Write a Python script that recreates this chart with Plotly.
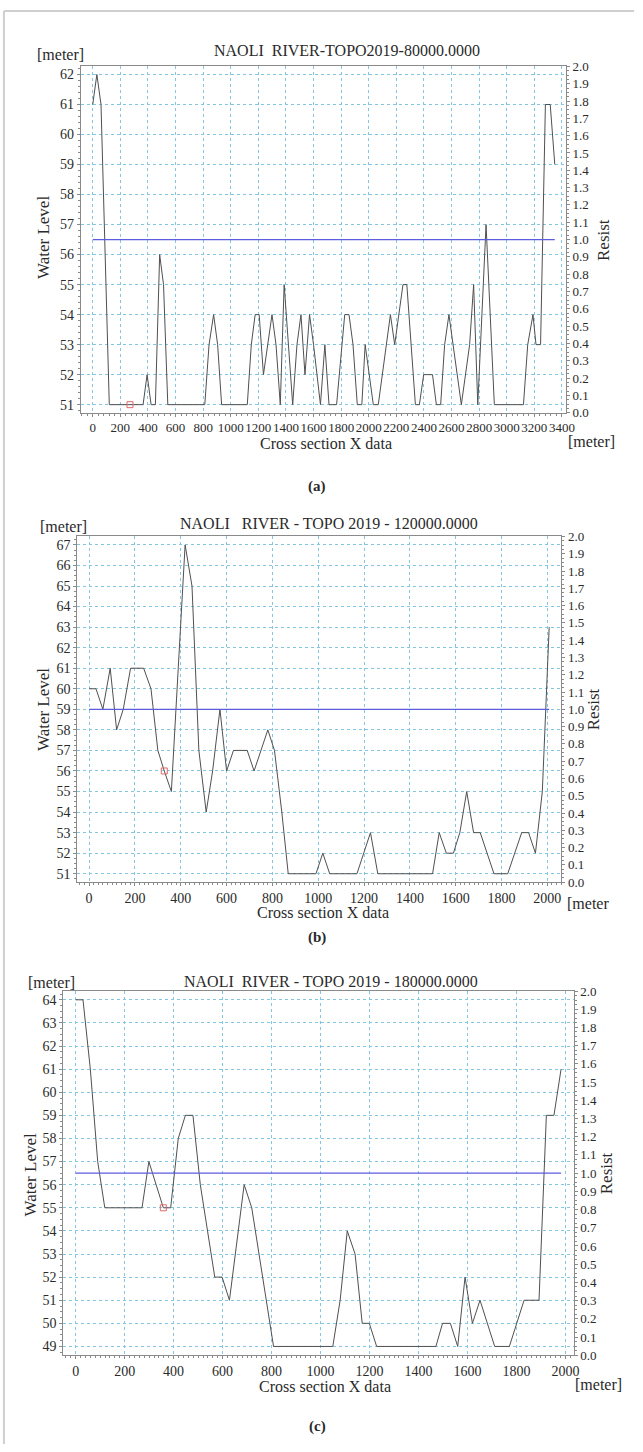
import plotly.graph_objects as go

W, H = 643, 1452
SERIF = "Liberation Serif"
GRID = "#86c6e3"
AXC = "#8a8a8a"
TXT = "#2a2a2a"
PROFILE_C = "#505050"
LEVEL_C = "#5c5ce0"
MARK_C = "#e06a6a"

# ---------------- data ----------------
# (a) NAOLI RIVER-TOPO2019-80000.0000
a_x = [0, 30, 60, 120, 365, 394, 423, 454, 485, 513, 544, 812, 843, 876, 905, 934,
       1120, 1149, 1177, 1206, 1237, 1268, 1299, 1328, 1359, 1387, 1418, 1449, 1480,
       1509, 1538, 1571, 1600, 1625, 1650, 1682, 1712, 1767, 1826, 1857, 1886, 1917,
       1950, 1974, 2033, 2069, 2157, 2188, 2248, 2276, 2338, 2367, 2398, 2462, 2490,
       2521, 2550, 2581, 2612, 2671, 2731, 2760, 2790, 2850, 2910, 3121, 3152, 3190,
       3212, 3245, 3280, 3315, 3348]
a_z = [61, 62, 61, 51, 51, 52, 51, 51, 56, 55, 51, 51, 53, 54, 53, 51,
       51, 53, 54, 54, 52, 53, 54, 53, 51, 55, 53, 51, 53,
       54, 52, 54, 53, 52, 51, 53, 51, 51, 54, 54, 53, 51,
       51, 53, 51, 51, 54, 53, 55, 55, 51, 51, 52, 52, 51,
       51, 53, 54, 53, 51, 53, 55, 51, 57, 51, 51, 53, 54,
       53, 53, 61, 61, 59]
a_mark_x = [270]
a_mark_z = [51]

# (b) NAOLI RIVER - TOPO 2019 - 120000.0000
b_x = [0, 30, 60, 92, 120, 149, 181, 238, 270, 300, 328, 359, 389, 419, 449, 479,
       511, 539, 571, 600, 630, 690, 720, 749, 780, 809, 841, 869, 990, 1020, 1050,
       1169, 1228, 1260, 1499, 1528, 1559, 1590, 1618, 1648, 1678, 1707, 1767, 1827,
       1888, 1918, 1948, 1978, 2008]
b_z = [60, 60, 59, 61, 58, 59, 61, 61, 60, 57, 56, 55, 61, 67, 65, 57,
       54, 56, 59, 56, 57, 57, 56, 57, 58, 57, 54, 51, 51, 52, 51,
       51, 53, 51, 51, 53, 52, 52, 53, 55, 53, 53, 51, 51,
       53, 53, 52, 55, 63]
b_mark_x = [328]
b_mark_z = [56]

# (c) NAOLI RIVER - TOPO 2019 - 180000.0000
c_x = [0, 30, 60, 90, 119, 271, 299, 329, 358, 388, 419, 448, 479, 509, 568, 598,
       628, 688, 719, 808, 1050, 1080, 1109, 1141, 1170, 1199, 1229, 1471, 1498,
       1530, 1560, 1590, 1620, 1651, 1711, 1771, 1831, 1892, 1922, 1953, 1982]
c_z = [64, 64, 61, 57, 55, 55, 57, 56, 55, 55, 58, 59, 59, 56, 52, 52,
       51, 56, 55, 49, 49, 51, 54, 53, 50, 50, 49, 49, 50,
       50, 49, 52, 50, 51, 49, 49, 51, 51, 59, 59, 61]
c_mark_x = [358]
c_mark_z = [55]

resist_level = 1.0

panels = [
    dict(x=a_x, z=a_z, mx=a_mark_x, mz=a_mark_z,
         title="NAOLI  RIVER-TOPO2019-80000.0000", tag="(a)",
         px=(82, 574), py=(60, 410), xr=[-86, 3429], yr=[50.73, 62.27],
         xd=200, xminor=40, ydt=1, yminor=0.2, xfs=13,
         title_xy=(352, 44), mtop=(61, 48), wl=(44, 233), rs=(612, 235),
         xl=(331, 441), mbot=(600, 439), tagy=485),
    dict(x=b_x, z=b_z, mx=b_mark_x, mz=b_mark_z,
         title="NAOLI   RIVER - TOPO 2019 - 120000.0000", tag="(b)",
         px=(78.3, 569.3), py=(535, 884.3), xr=[-52, 2061], yr=[50.59, 67.41],
         xd=200, xminor=20, ydt=1, yminor=0.25, xfs=14,
         title_xy=(334, 522), mtop=(64, 525), wl=(44, 710), rs=(602, 710),
         xl=(328, 915), mbot=(596, 906), tagy=940, mbot_text="[meter"),
    dict(x=c_x, z=c_z, mx=c_mark_x, mz=c_mark_z,
         title="NAOLI  RIVER - TOPO 2019 - 180000.0000", tag="(c)",
         px=(64.3, 581.7), py=(994.3, 1362.3), xr=[-50, 2033], yr=[48.62, 64.38],
         xd=200, xminor=20, ydt=1, yminor=0.25, xfs=14,
         title_xy=(336, 985), mtop=(52, 986), wl=(31, 1180), rs=(615, 1178),
         xl=(330, 1394), mbot=(607, 1392), tagy=1434),
]


def fx(p):
    return p / W


def fy(p):
    return 1 - p / H


fig = go.Figure()
layout = dict(width=W, height=H, margin=dict(l=0, r=0, t=0, b=0),
              paper_bgcolor="white", plot_bgcolor="white", showlegend=False)
annotations = []

for i, p in enumerate(panels):
    n = i + 1
    xa = "x" if n == 1 else f"x{n}"
    yl = 2 * n - 1
    yr_ = 2 * n
    ya_left = "y" if yl == 1 else f"y{yl}"
    ya_right = f"y{yr_}"
    xkey = "xaxis" if n == 1 else f"xaxis{n}"
    ylkey = "yaxis" if yl == 1 else f"yaxis{yl}"
    yrkey = f"yaxis{yr_}"

    fig.add_trace(go.Scatter(x=p["x"], y=p["z"], xaxis=xa, yaxis=ya_left, mode="lines",
                             line=dict(color=PROFILE_C, width=1), hoverinfo="skip"))
    fig.add_trace(go.Scatter(x=[p["x"][0], p["x"][-1]], y=[resist_level, resist_level],
                             xaxis=xa, yaxis=ya_right, mode="lines",
                             line=dict(color=LEVEL_C, width=1.3), hoverinfo="skip"))
    fig.add_trace(go.Scatter(x=p["mx"], y=p["mz"], xaxis=xa, yaxis=ya_left, mode="markers",
                             marker=dict(symbol="square-open", size=6, color=MARK_C,
                                         line=dict(width=1, color=MARK_C)),
                             hoverinfo="skip"))

    dom_x = [fx(p["px"][0]), fx(p["px"][1])]
    dom_y = [fy(p["py"][1]), fy(p["py"][0])]
    layout[xkey] = dict(domain=dom_x, anchor=ya_left, range=p["xr"], tick0=0, dtick=p["xd"],
                        showgrid=True, gridcolor=GRID, griddash="dot", gridwidth=1,
                        showline=True, linecolor=AXC, linewidth=1, mirror=True,
                        ticks="outside", ticklen=3, tickcolor=AXC, tickangle=0,
                        tickfont=dict(family=SERIF, size=p["xfs"], color=TXT),
                        zeroline=False,
                        minor=dict(dtick=p["xminor"], tick0=0, ticklen=2, tickcolor=AXC,
                                   ticks="outside", showgrid=False))
    layout[ylkey] = dict(domain=dom_y, anchor=xa, range=p["yr"], tick0=0, dtick=p["ydt"],
                         showgrid=True, gridcolor=GRID, griddash="dot", gridwidth=1,
                         showline=True, linecolor=AXC, linewidth=1,
                         ticks="outside", ticklen=3, tickcolor=AXC,
                         tickfont=dict(family=SERIF, size=14, color=TXT),
                         zeroline=False,
                         minor=dict(dtick=p["yminor"], tick0=0, ticklen=2, tickcolor=AXC,
                                    ticks="outside", showgrid=False))
    layout[yrkey] = dict(overlaying=ya_left, anchor=xa, side="right", range=[0, 2],
                         tick0=0, dtick=0.1, tickformat=".1f", showgrid=False,
                         showline=True, linecolor=AXC, linewidth=1,
                         ticks="outside", ticklen=3, tickcolor=AXC,
                         tickfont=dict(family=SERIF, size=13, color=TXT),
                         zeroline=False,
                         minor=dict(dtick=0.025, tick0=0, ticklen=2, tickcolor=AXC,
                                    ticks="outside", showgrid=False))

    def ann(text, xy, size, angle=0, bold=False, xanchor="center"):
        annotations.append(dict(text=f"<b>{text}</b>" if bold else text,
                                x=fx(xy[0]), y=fy(xy[1]), xref="paper", yref="paper",
                                xanchor=xanchor, yanchor="middle", showarrow=False,
                                textangle=angle,
                                font=dict(family=SERIF, size=size, color=TXT)))

    ann(p["title"], p["title_xy"], 16)
    ann("[meter]", p["mtop"], 16)
    ann("Water Level", p["wl"], 17, angle=-90)
    ann("Resist", p["rs"], 17, angle=-90)
    ann("Cross section X data", p["xl"], 16)
    ann(p.get("mbot_text", "[meter]"), p["mbot"], 16)
    ann(p["tag"], (322, p["tagy"]), 15, bold=True)

layout["annotations"] = annotations
layout["shapes"] = [
    dict(type="line", xref="paper", yref="paper", x0=fx(4), x1=fx(4), y0=fy(4), y1=0,
         line=dict(color="#cfcfcf", width=2)),
    dict(type="line", xref="paper", yref="paper", x0=fx(4), x1=1, y0=fy(4), y1=fy(4),
         line=dict(color="#cfcfcf", width=2)),
]
fig.update_layout(**layout)
fig.write_html("out.html")
